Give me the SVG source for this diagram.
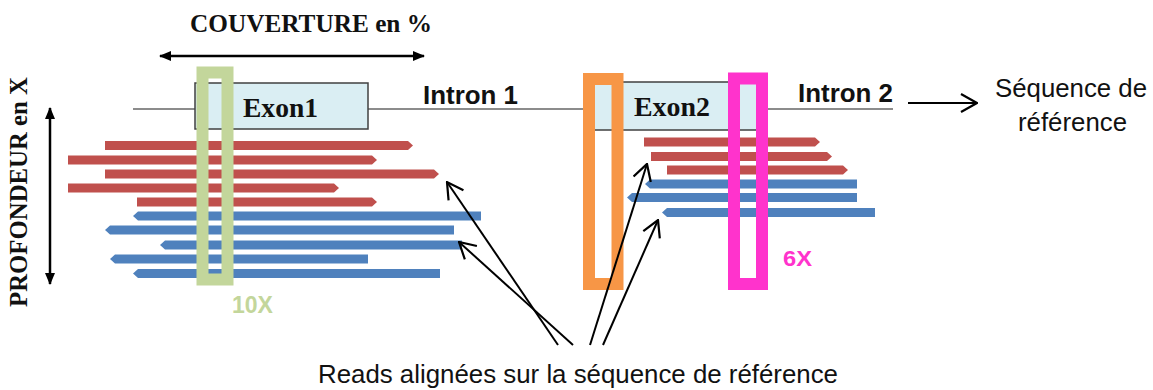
<svg xmlns="http://www.w3.org/2000/svg" width="1153" height="390" viewBox="0 0 1153 390">
<defs>
<style>
.serifb{font-family:"Liberation Serif","Times New Roman",serif;font-weight:bold;fill:#111}
.sans{font-family:"Liberation Sans",Arial,sans-serif;fill:#111}
.sansb{font-family:"Liberation Sans",Arial,sans-serif;font-weight:bold;fill:#111}
.red{fill:#c0504d}
.blue{fill:#4f81bd}
.exon{fill:#daeef3;stroke:#404040;stroke-width:1.5}
.frame{fill:none;stroke-width:12}
.arr{stroke:#000;stroke-width:2;fill:none}
</style>
<marker id="solid" viewBox="0 0 12 10" refX="11" refY="5" markerWidth="12" markerHeight="10" markerUnits="userSpaceOnUse" orient="auto-start-reverse">
<path d="M0,0 L12,5 L0,10 Z" fill="#000"/>
</marker>
<marker id="open" viewBox="0 0 18 20" refX="17" refY="10" markerWidth="18" markerHeight="20" markerUnits="userSpaceOnUse" orient="auto">
<polyline points="1,1 17,10 1,19" fill="none" stroke="#000" stroke-width="2.2"/>
</marker>
</defs>
<rect width="1153" height="390" fill="#fff"/>

<g id="axes">
<line x1="160" y1="56" x2="424" y2="56" stroke="#000" stroke-width="2.5" marker-start="url(#solid)" marker-end="url(#solid)"/>
<text class="serifb" x="190" y="32" font-size="26" textLength="242" lengthAdjust="spacingAndGlyphs">COUVERTURE en %</text>
<line x1="50" y1="108" x2="50" y2="284" stroke="#000" stroke-width="2.5" marker-start="url(#solid)" marker-end="url(#solid)"/>
<text class="serifb" transform="translate(27,307) rotate(-90)" font-size="25" textLength="230" lengthAdjust="spacingAndGlyphs">PROFONDEUR en X</text>
</g>

<g id="reference">
<line x1="133" y1="109" x2="893" y2="109" stroke="#666" stroke-width="1.6"/>
<g id="exon1">
<rect class="exon" x="195" y="83" width="173" height="46"/>
<text class="serifb" x="243" y="117" font-size="28" textLength="75" lengthAdjust="spacingAndGlyphs">Exon1</text>
</g>
<g id="exon2">
<rect class="exon" x="588" y="82" width="172" height="48"/>
<text class="serifb" x="634" y="116" font-size="28" textLength="76" lengthAdjust="spacingAndGlyphs">Exon2</text>
</g>
<text class="sansb" x="423" y="103.5" font-size="25" textLength="95" lengthAdjust="spacingAndGlyphs">Intron 1</text>
<text class="sansb" x="798" y="102" font-size="25" textLength="95" lengthAdjust="spacingAndGlyphs">Intron 2</text>
</g>

<g id="reads1">
<polygon class="red" points="105,141 408,141 413,145.5 408,150 105,150"/>
<polygon class="red" points="68,155.5 372,155.5 377,160 372,164.5 68,164.5"/>
<polygon class="red" points="105,169.5 434,169.5 439,174 434,178.5 105,178.5"/>
<polygon class="red" points="68,183.5 334,183.5 339,188 334,192.5 68,192.5"/>
<polygon class="red" points="137,197.5 372,197.5 377,202 372,206.5 137,206.5"/>
<polygon class="blue" points="133,216 138,211.5 481,211.5 481,220.5 138,220.5"/>
<polygon class="blue" points="105,230 110,225.5 454,225.5 454,234.5 110,234.5"/>
<polygon class="blue" points="160,245 165,240.5 462,240.5 462,249.5 165,249.5"/>
<polygon class="blue" points="110,259 115,254.5 368,254.5 368,263.5 115,263.5"/>
<polygon class="blue" points="133,273.5 138,269 440,269 440,278 138,278"/>
</g>

<g id="reads2">
<polygon class="red" points="644,137.5 815,137.5 820,142 815,146.5 644,146.5"/>
<polygon class="red" points="651,152 827,152 832,156.5 827,161 651,161"/>
<polygon class="red" points="667,165.5 843,165.5 848,170 843,174.5 667,174.5"/>
<polygon class="blue" points="645,184 650,179.5 857,179.5 857,188.5 650,188.5"/>
<polygon class="blue" points="627,197.5 632,193 857,193 857,202 632,202"/>
<polygon class="blue" points="662,212.5 667,208 875,208 875,217 667,217"/>
</g>

<g id="green-window">
<rect class="frame" x="202.5" y="72.5" width="25" height="207" stroke="#c3d69b" stroke-width="11"/>
<text class="sansb" x="232" y="313" font-size="23" style="fill:#c3d69b" textLength="41" lengthAdjust="spacingAndGlyphs">10X</text>
</g>
<g id="orange-window">
<rect class="frame" x="589" y="79" width="28.5" height="205" stroke="#f79646"/>
</g>
<g id="pink-window">
<rect class="frame" x="734" y="78.5" width="28" height="205.5" stroke="#ff33cc"/>
<text class="sansb" x="783" y="266" font-size="22" style="fill:#ff33cc" textLength="29" lengthAdjust="spacingAndGlyphs">6X</text>
</g>

<g id="connectors">
<line class="arr" x1="908" y1="103" x2="977" y2="103" marker-end="url(#open)"/>
<line class="arr" x1="558" y1="345" x2="447" y2="182" marker-end="url(#open)"/>
<line class="arr" x1="573" y1="345" x2="459" y2="242" marker-end="url(#open)"/>
<line class="arr" x1="590" y1="345" x2="647" y2="164" marker-end="url(#open)"/>
<line class="arr" x1="603" y1="345" x2="658" y2="220" marker-end="url(#open)"/>
</g>

<g id="labels">
<text class="sans" x="995" y="97" font-size="26" textLength="152" lengthAdjust="spacingAndGlyphs">Séquence de</text>
<text class="sans" x="1018" y="131" font-size="26" textLength="109" lengthAdjust="spacingAndGlyphs">référence</text>
<text class="sans" x="318" y="383" font-size="26" textLength="520" lengthAdjust="spacingAndGlyphs">Reads alignées sur la séquence de référence</text>
</g>
</svg>
